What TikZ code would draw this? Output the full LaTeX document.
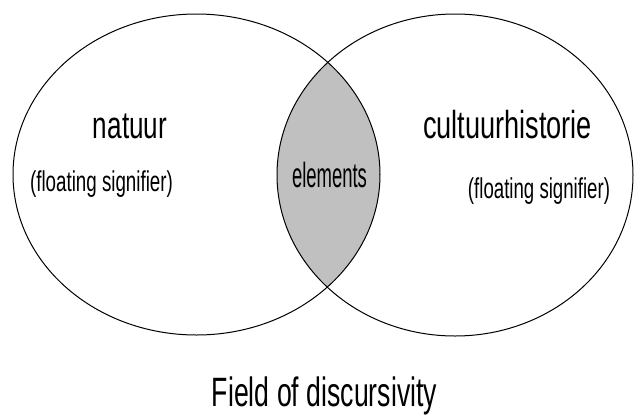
\documentclass[tikz,border=0pt]{standalone}
\usepackage{fontspec}
\setmainfont{Liberation Sans}
\newcommand\mylbl[3]{\scalebox{#1}[1]{\fontsize{#2}{#2}\selectfont #3}}
\definecolor{lensgray}{RGB}{192,192,192}
\begin{document}
\begin{tikzpicture}[x=1pt,y=-1pt,
  lbl/.style={inner sep=0pt, anchor=base},
  ring/.style={draw=black, line width=1pt}]
\useasboundingbox (0,0) rectangle (635,416);
\fill[white] (0,0) rectangle (635,416);
\coordinate (lc) at (196.5,174.5);
\coordinate (rc) at (455,175);
\begin{scope}
  \clip (lc) ellipse [x radius=183.5pt, y radius=160.5pt];
  \fill[lensgray] (rc) ellipse [x radius=178pt, y radius=161pt];
\end{scope}
\draw[ring] (lc) ellipse [x radius=183.5pt, y radius=160.5pt];
\draw[ring] (rc) ellipse [x radius=178pt, y radius=161pt];
\node[lbl] (natuur) at (130,138) {\mylbl{0.687}{38}{natuur}};
\node[lbl] (fsl) at (101.5,191) {\mylbl{0.654}{28.7}{(floating signifier)}};
\node[lbl] (elem) at (329.5,187) {\mylbl{0.528}{35}{elements}};
\node[lbl] (cult) at (507.5,138) {\mylbl{0.696}{39}{cultuurhistorie}};
\node[lbl] (fsr) at (539,198) {\mylbl{0.65}{28.7}{(floating signifier)}};
\node[lbl] (field) at (324.5,406) {\mylbl{0.65}{41}{Field of discursivity}};
\end{tikzpicture}
\end{document}
